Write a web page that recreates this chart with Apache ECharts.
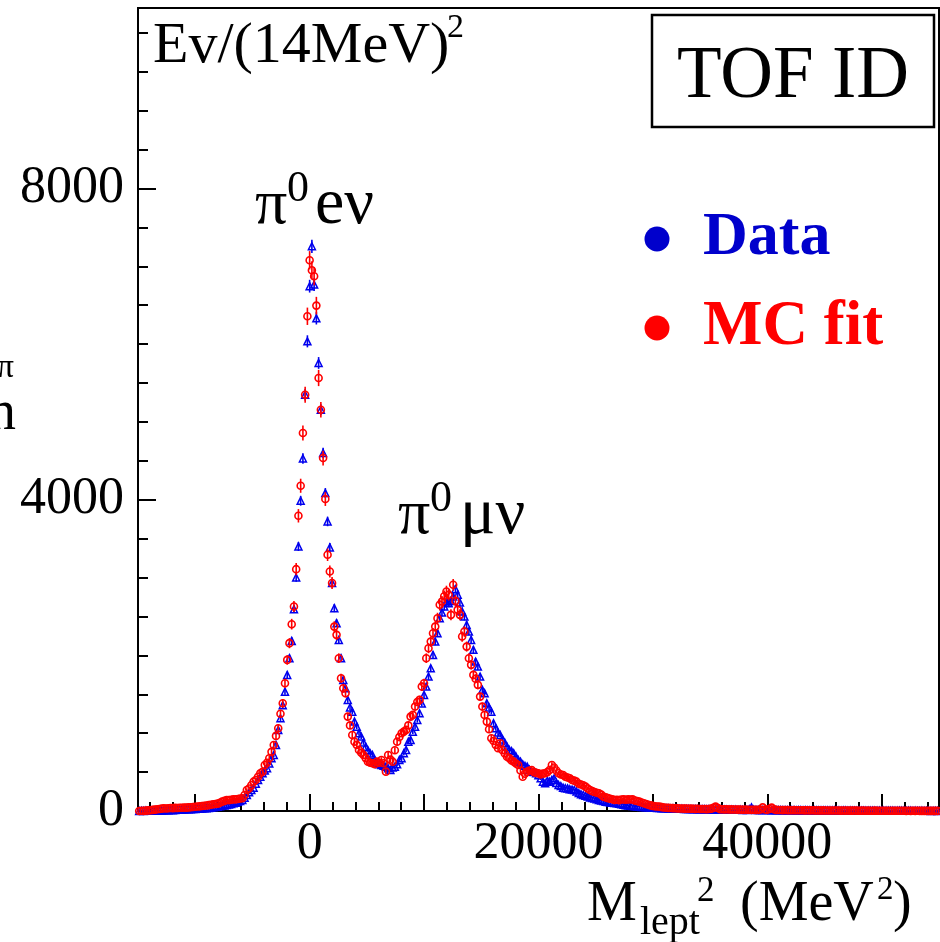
<!DOCTYPE html>
<html>
<head>
<meta charset="utf-8">
<script src="https://cdn.jsdelivr.net/npm/echarts@6/dist/echarts.min.js"></script>
<style>
html,body{margin:0;padding:0;background:#fff;}
#chart{width:940px;height:942px;}
</style>
</head>
<body>
<div id="chart"></div>
<script>
// ---------- DATA ----------
// bin width (MeV^2) = (14 MeV)^2, bins indexed from K_FIRST to K_LAST, centre = k*BIN_WIDTH
const BIN_WIDTH = 196;
const K_FIRST = -76;
const K_LAST = 280;

// Data (blue triangles), counts per bin, starting at k = -76
const dataCounts = [
  0, 2, 0, 3, 2, 4, 3, 5, 4, 6,                 // -76
  8, 7, 10, 9, 12, 11, 14, 15, 17, 16,          // -66
  19, 21, 22, 24, 26, 27, 29, 30, 32, 35,       // -56
  34, 38, 41, 47, 50, 55, 60, 66, 72, 77,       // -46
  83, 90, 99, 106, 118, 130, 141, 170, 206, 240,// -36
  270, 300, 350, 399, 440, 485, 520, 549, 610, 678, // -26
  720, 849, 1042, 1192, 1360, 1534, 1749, 1964, 2186, 2594, // -16
  3001, 3400, 3987, 4530, 5350, 6036, 6745, 7258, 6765, 6332, // -6
  5758, 5157, 4600, 4086, 3721, 3387, 2929, 2607, 2414, 2199, // 4
  1964, 1685, 1578, 1428, 1330, 1277, 1150, 1084, 1000, 956,  // 14
  880, 827, 780, 740, 720, 650, 620, 600, 592, 580,           // 24
  570, 549, 527, 560, 570, 600, 656, 678, 742, 785,           // 34
  891, 913, 1020, 1084, 1170, 1256, 1380, 1492, 1599, 1727,   // 44
  1835, 2006, 2177, 2285, 2478, 2550, 2628, 2692, 2671, 2700, // 54
  2756, 2851, 2780, 2679, 2564, 2499, 2392, 2306, 2199, 2071, // 64
  1920, 1856, 1727, 1556, 1514, 1385, 1330, 1277, 1128, 1064, // 74
  1010, 977, 920, 878, 827, 785, 770, 742, 700, 656,          // 84
  634, 600, 580, 570, 530, 506, 500, 485, 460, 420,           // 94
  377, 356, 390, 377, 400, 420, 360, 334, 320, 300,           // 104
  292, 290, 280, 275, 270, 250, 230, 215, 206, 195,           // 114
  185, 175, 168, 160, 150, 141, 135, 128, 120, 115,           // 124
  110, 105, 102, 99, 92, 88, 80, 75, 70, 66,                  // 134
  64, 60, 58, 55, 52, 50, 48, 47, 45, 44,                     // 144
  42, 40, 39, 36, 35, 34, 33, 31, 32, 30,                     // 154
  30, 28, 29, 27, 26, 27, 25, 24, 25, 23,                     // 164
  24, 22, 23, 21, 22, 20, 21, 19, 20, 18,                     // 174
  19, 17, 18, 16, 18, 15, 17, 15, 16, 14,                     // 184
  15, 14, 22, 47, 18, 14, 13, 14, 12, 13,                     // 194
  12, 13, 11, 12, 10, 12, 11, 10, 11, 9,                      // 204
  10, 9, 10, 8, 9, 9, 8, 9, 7, 8,                             // 214
  8, 7, 8, 7, 7, 8, 6, 7, 7, 6,                               // 224
  6, 7, 6, 5, 6, 6, 5, 6, 5, 5,                               // 234
  5, 6, 4, 5, 5, 4, 5, 4, 5, 4,                               // 244
  4, 4, 3, 4, 4, 3, 4, 3, 3, 4,                               // 254
  3, 3, 2, 3, 3, 2, 3, 2, 2, 3,                               // 264
  2, 2, 2, 1, 2, 2, 1                                         // 274
];

// MC fit (red open circles), counts per bin, starting at k = -76
const mcCounts = [
  0, 3, 2, 5, 8, 10, 14, 18, 22, 26,            // -76
  30, 35, 33, 36, 38, 37, 40, 39, 42, 41,       // -66
  44, 43, 47, 48, 52, 55, 58, 60, 64, 67,       // -56
  70, 75, 80, 86, 90, 95, 105, 120, 130, 141,   // -46
  140, 145, 150, 150, 155, 160, 163, 206, 270, 290, // -36
  330, 377, 399, 440, 485, 505, 592, 620, 678, 760, // -26
  849, 965, 1064, 1250, 1385, 1642, 1942, 2157, 2401, 2628, // -16
  3108, 3794, 4180, 4858, 5350, 6358, 7078, 6950, 6872, 6495, // -6
  5565, 5157, 4536, 4009, 3293, 3078, 2930, 2370, 2264, 1964, // 4
  1707, 1578, 1514, 1213, 1100, 977, 891, 850, 785, 750,      // 14
  720, 680, 634, 620, 613, 600, 634, 620, 656, 613,           // 24
  506, 720, 660, 634, 780, 891, 950, 999, 1020, 1042,         // 34
  1100, 1213, 1235, 1342, 1400, 1428, 1599, 1642, 1964, 2092, // 44
  2177, 2285, 2370, 2478, 2650, 2692, 2760, 2821, 2778, 2521, // 54
  2907, 2700, 2585, 2521, 2242, 2306, 2113, 1964, 1878, 1749, // 64
  1700, 1621, 1470, 1342, 1235, 1149, 1050, 935, 900, 849,    // 74
  806, 870, 780, 740, 698, 680, 650, 634, 610, 592,           // 84
  520, 441, 480, 506, 520, 527, 500, 490, 485, 470,           // 94
  480, 485, 500, 527, 592, 560, 520, 485, 470, 463,           // 104
  441, 430, 420, 399, 390, 377, 350, 340, 330, 313,           // 114
  290, 270, 255, 245, 235, 228, 210, 185, 175, 165,           // 124
  158, 150, 141, 145, 140, 148, 150, 145, 150, 148,           // 134
  150, 135, 128, 120, 110, 100, 90, 80, 72, 66,               // 144
  60, 58, 56, 50, 45, 42, 40, 38, 37, 35,                     // 154
  34, 32, 33, 30, 31, 29, 30, 28, 27, 28,                     // 164
  26, 25, 26, 24, 25, 30, 40, 56, 38, 24,                     // 174
  23, 21, 22, 20, 21, 19, 20, 18, 19, 17,                     // 184
  18, 16, 17, 15, 16, 14, 15, 20, 47, 20,                     // 194
  15, 25, 43, 22, 14, 12, 13, 11, 12, 11,                     // 204
  11, 10, 11, 9, 10, 9, 10, 8, 9, 8,                          // 214
  9, 8, 7, 8, 7, 8, 7, 6, 7, 6,                               // 224
  7, 6, 6, 5, 6, 5, 6, 5, 5, 6,                               // 234
  5, 4, 5, 5, 4, 5, 4, 4, 5, 3,                               // 244
  4, 4, 3, 4, 3, 4, 3, 3, 4, 3,                               // 254
  3, 3, 2, 3, 2, 3, 2, 3, 2, 2,                               // 264
  2, 2, 1, 2, 2, 1, 2                                         // 274
];

// axis ranges & tick labels
const X_MIN = -15000, X_MAX = 55000;
const Y_MIN = 0, Y_MAX = 10320;
const xMajorTicks = [-10000, 0, 10000, 20000, 30000, 40000, 50000];
const xTickLabels = [0, 20000, 40000];
const yTickLabels = [0, 4000, 8000];
const X_MINOR_STEP = 2000;
const Y_MAJOR_STEP = 4000;

// ---------- BUILD ----------
const binCenters = [];
for (let k = K_FIRST; k <= K_LAST; k++) binCenters.push(k * BIN_WIDTH);
if (binCenters.length !== dataCounts.length || binCenters.length !== mcCounts.length) {
  console.error('length mismatch', binCenters.length, dataCounts.length, mcCounts.length);
}
const xMinorTicks = [];
for (let v = X_MIN + 1000; v < X_MAX; v += X_MINOR_STEP) {
  if (xMajorTicks.indexOf(v) < 0) xMinorTicks.push(v);
}

const dataPts = binCenters.map((x, i) => [x, dataCounts[i]]);
const mcPts = binCenters.map((x, i) => [x, mcCounts[i]]);
const dataErr = binCenters.map((x, i) => [x, dataCounts[i], Math.sqrt(dataCounts[i])]);
const mcErr = binCenters.map((x, i) => [x, mcCounts[i], 1.4 * Math.sqrt(mcCounts[i])]);

const SERIF = '"Liberation Serif", "Times New Roman", serif';
const BLUE = '#0000ee';
const RED = '#ff0000';

function errRender(color) {
  return function (params, api) {
    const x = api.value(0), y = api.value(1), e = api.value(2);
    const p1 = api.coord([x, y + e]);
    const p2 = api.coord([x, Math.max(0, y - e)]);
    return {
      type: 'line',
      shape: { x1: p1[0], y1: p1[1], x2: p2[0], y2: p2[1] },
      style: { stroke: color, lineWidth: 1.6 }
    };
  };
}

// text positioned by its baseline
function T(text, x, baseline, fs, extra) {
  const style = Object.assign({
    text: text,
    font: fs + 'px ' + SERIF,
    fill: '#000',
    textAlign: 'left',
    textVerticalAlign: 'middle',
    align: 'left',
    verticalAlign: 'middle'
  }, extra || {});
  if (extra && extra.weight) { style.font = extra.weight + ' ' + fs + 'px ' + SERIF; }
  if (extra && extra.textAlign) style.align = extra.textAlign;
  return { type: 'text', x: x, y: baseline - 0.305 * fs, z: 100, style: style };
}

const chart = echarts.init(document.getElementById('chart'), null, { renderer: 'canvas' });

const option = {
  animation: false,
  backgroundColor: '#fff',
  grid: {
    left: 138, right: 1, top: 8, bottom: 131,
    show: true, borderColor: '#000', borderWidth: 2, backgroundColor: 'transparent'
  },
  xAxis: [
    {
      type: 'value', min: X_MIN, max: X_MAX,
      axisLine: { show: true, onZero: false, lineStyle: { color: '#000', width: 2 } },
      axisTick: { show: true, inside: true, length: 17, customValues: xMajorTicks, lineStyle: { color: '#000', width: 2 } },
      axisLabel: { show: true, customValues: xTickLabels, margin: 7, color: '#000', fontSize: 52, fontFamily: SERIF,
        formatter: v => String(v) },
      splitLine: { show: false }
    },
    {
      type: 'value', min: X_MIN, max: X_MAX, position: 'bottom',
      axisLine: { show: false, onZero: false },
      axisTick: { show: true, inside: true, length: 9, customValues: xMinorTicks, lineStyle: { color: '#000', width: 2 } },
      axisLabel: { show: false },
      splitLine: { show: false }
    }
  ],
  yAxis: {
    type: 'value', min: Y_MIN, max: Y_MAX, interval: Y_MAJOR_STEP,
    axisLine: { show: true, onZero: false, lineStyle: { color: '#000', width: 2 } },
    axisTick: { show: true, inside: true, length: 18, lineStyle: { color: '#000', width: 2 } },
    minorTick: { show: true, splitNumber: 8, length: 10, lineStyle: { color: '#000', width: 2 } },
    axisLabel: { show: true, margin: 14, color: '#000', fontSize: 52, fontFamily: SERIF,
      showMaxLabel: false, formatter: v => (yTickLabels.indexOf(v) >= 0 ? String(v) : '') },
    splitLine: { show: false }
  },
  series: [
    {
      type: 'custom', name: 'dataErr', xAxisIndex: 0, yAxisIndex: 0,
      renderItem: errRender(BLUE), data: dataErr, clip: true, encode: { x: 0, y: 1 }, z: 2
    },
    {
      type: 'scatter', name: 'Data', xAxisIndex: 0, yAxisIndex: 0, data: dataPts,
      symbol: 'triangle', symbolSize: 7, clip: true, z: 3,
      itemStyle: { color: 'rgba(0,0,0,0)', borderColor: BLUE, borderWidth: 1.5, opacity: 1 }
    },
    {
      type: 'custom', name: 'mcErr', xAxisIndex: 0, yAxisIndex: 0,
      renderItem: errRender(RED), data: mcErr, clip: true, encode: { x: 0, y: 1 }, z: 4
    },
    {
      type: 'scatter', name: 'MC fit', xAxisIndex: 0, yAxisIndex: 0, data: mcPts,
      symbol: 'circle', symbolSize: 7, clip: true, z: 5,
      itemStyle: { color: 'rgba(0,0,0,0)', borderColor: RED, borderWidth: 1.6, opacity: 1 }
    }
  ],
  graphic: [
    // y axis title (cut at the left edge)
    T('π', 14, 378, 34, { textAlign: 'right' }),
    T('n', 16, 431, 56, { textAlign: 'right' }),
    // units in top-left corner
    T('Ev/(14MeV)', 153, 64, 58),
    T('2', 447, 38, 34),
    // peak labels
    T('π', 255, 226, 64),
    T('0', 287, 203, 44),
    T('eν', 315, 226, 66),
    T('π', 398, 536, 64),
    T('0', 430, 513, 44),
    T('μν', 460, 536, 66),
    // TOF ID box
    { type: 'rect', z: 99, shape: { x: 652, y: 15, width: 282, height: 112 },
      style: { fill: '#fff', stroke: '#000', lineWidth: 2.5 } },
    T('TOF ID', 793, 100, 73, { textAlign: 'center' }),
    // legend
    { type: 'circle', z: 100, shape: { cx: 657, cy: 239, r: 12.5 }, style: { fill: '#0000cc' } },
    T('Data', 703, 257, 62, { fill: '#0000cc', weight: 'bold' }),
    { type: 'circle', z: 100, shape: { cx: 657, cy: 328, r: 12.5 }, style: { fill: RED } },
    T('MC fit', 703, 347, 63, { fill: RED, weight: 'bold' }),
    // x axis title
    T('M', 587, 922, 56),
    T('lept', 640, 936, 40),
    T('2', 697, 902, 35),
    T('(MeV', 740, 922, 56),
    T('2', 877, 900, 33),
    T(')', 893, 922, 56)
  ]
};
chart.setOption(option);
</script>
</body>
</html>
